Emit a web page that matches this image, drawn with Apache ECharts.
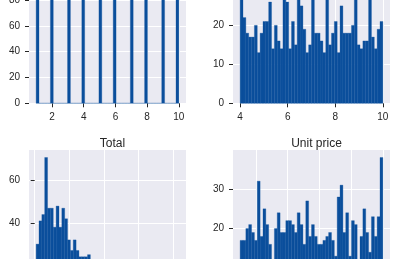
<!DOCTYPE html>
<html><head><meta charset="utf-8">
<script src="https://cdn.jsdelivr.net/npm/echarts@6/dist/echarts.min.js"></script>
<style>html,body{margin:0;padding:0;background:#fff}#c{width:413px;height:259px}</style>
</head><body><div id="c"></div>
<script>
// ---- data (histogram counts, 50 bins each) ----
const quantityRange = [1, 10];
const quantityValues = [1, 2, 3, 4, 5, 6, 7, 8, 9, 10];
const quantityCountsPerValue = [112, 91, 90, 109, 102, 98, 102, 85, 92, 119];

const ratingRange = [4, 10];
const ratingCounts = [30, 22, 18, 17, 17, 20, 13, 18, 21, 21, 26, 14, 20, 16, 14, 30, 26, 14, 21, 15,
  30, 25, 19, 13, 15, 30, 18, 18, 16, 13, 30, 15, 18, 21, 13, 25, 18, 18, 18, 20,
  30, 15, 14, 16, 16, 30, 17, 14, 19, 21];

const totalRange = [10.68, 1042.65];
const totalCounts = [30, 41, 44, 71, 47, 47, 38, 48, 38, 47, 42, 32, 27, 32, 27, 24, 24, 24, 25,
  20, 18, 15, 17, 14, 12, 13, 10, 9, 11, 8, 7, 9, 6, 5, 7, 4, 5, 3, 4, 3, 2, 3, 2, 1, 2, 1, 1, 0, 1, 2];

const unitPriceRange = [10.08, 99.96];
const unitPriceCounts = [17, 17, 20, 21, 19, 17, 32, 18, 25, 21,
  16, 10, 20, 24, 19, 19, 22, 22, 21, 19,
  24, 21, 16, 27, 18, 21, 18, 16, 16, 17,
  18, 19, 17, 13, 28, 31, 19, 24, 13, 22,
  21, 10, 18, 25, 19, 14, 23, 18, 23, 38];

const titles = ['Total', 'Unit price'];
const xTicks = [[2, 4, 6, 8, 10], [4, 6, 8, 10], [0, 250, 500, 750, 1000], [20, 40, 60, 80, 100]];
const yTicks = [[0, 20, 40, 60, 80, 100, 120], [0, 10, 20, 30, 40], [0, 20, 40, 60], [0, 10, 20, 30]];

// ---- build histogram bins ----
const NB = 50;
function bins(range, counts) {
  const w = (range[1] - range[0]) / NB;
  return counts.map((c, i) => [range[0] + i * w, range[0] + (i + 1) * w, c]);
}
const quantityCounts = new Array(NB).fill(0);
quantityValues.forEach((v, k) => {
  const w = (quantityRange[1] - quantityRange[0]) / NB;
  const idx = Math.min(NB - 1, Math.floor((v - quantityRange[0]) / w + 1e-9));
  quantityCounts[idx] = quantityCountsPerValue[k];
});

const datasets = [
  bins(quantityRange, quantityCounts),
  bins(ratingRange, ratingCounts),
  bins(totalRange, totalCounts),
  bins(unitPriceRange, unitPriceCounts)
];
const ranges = [quantityRange, ratingRange, totalRange, unitPriceRange];

const BAR = '#0b4f9c';
const TXT = '#262626';
const grids = [
  {left: 29, top: -58, width: 157, height: 161.3},
  {left: 233, top: -58, width: 157, height: 161.3},
  {left: 29, top: 150, width: 157, height: 157.5},
  {left: 233, top: 150, width: 157, height: 157.5}
];
const yMax = [125, 41.4, 74.55, 39.9];

const option = {
  animation: false,
  backgroundColor: '#fff',
  title: [
    {text: titles[0], left: 107.5, top: 133, textAlign: 'center',
     textStyle: {fontFamily: 'Liberation Sans', fontSize: 12, fontWeight: 'normal', color: TXT}},
    {text: titles[1], left: 311.5, top: 133, textAlign: 'center',
     textStyle: {fontFamily: 'Liberation Sans', fontSize: 12, fontWeight: 'normal', color: TXT}}
  ],
  grid: grids.map(g => Object.assign({show: true, backgroundColor: '#EAEAF2', borderWidth: 0,
    containLabel: false, outerBoundsMode: 'none'}, g)),
  xAxis: ranges.map((r, i) => {
    const m = (r[1] - r[0]) * 0.05;
    return {
      type: 'value', gridIndex: i, min: r[0] - m, max: r[1] + m,
      axisLine: {show: false},
      axisTick: {show: true, length: 4, customValues: xTicks[i], lineStyle: {color: TXT}},
      axisLabel: {customValues: xTicks[i], margin: 9, color: TXT, fontSize: 10, fontFamily: 'Liberation Sans'},
      splitLine: {show: true, lineStyle: {color: '#fff', width: 1}}
    };
  }),
  yAxis: yMax.map((mx, i) => ({
    type: 'value', gridIndex: i, min: 0, max: mx,
    axisLine: {show: false},
    axisTick: {show: true, length: 4, customValues: yTicks[i], lineStyle: {color: TXT}},
    axisLabel: {customValues: yTicks[i], margin: 9, color: TXT, fontSize: 10, fontFamily: 'Liberation Sans'},
    splitLine: {show: true, lineStyle: {color: '#fff', width: 1}}
  })),
  series: datasets.map((d, i) => ({
    type: 'custom', xAxisIndex: i, yAxisIndex: i, data: d,
    encode: {x: [0, 1], y: 2},
    renderItem: function (params, api) {
      const a = api.coord([api.value(0), api.value(2)]);
      const b = api.coord([api.value(1), 0]);
      return {type: 'rect', shape: {x: a[0], y: a[1], width: b[0] - a[0], height: b[1] - a[1]},
        style: {fill: BAR, stroke: BAR, lineWidth: 0.3}};
    }
  }))
};
const chart = echarts.init(document.getElementById('c'), null, {renderer: 'canvas'});
chart.setOption(option);
</script></body></html>
